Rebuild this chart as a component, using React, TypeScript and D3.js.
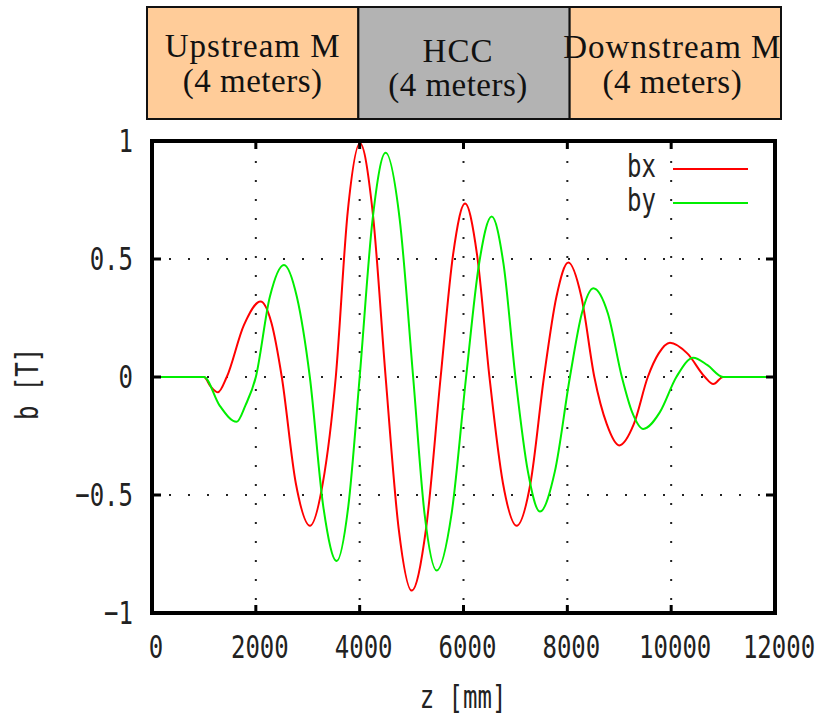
import React from 'react';
import * as d3 from 'd3';

// z positions [mm] and field values [T]
const bxZ = [0, 1000, 1130, 1270, 1440, 1770, 2090, 2300, 2500, 2770, 3043, 3290, 3540, 3770, 4006, 4250, 4500, 4750, 5002, 5280, 5560, 5800, 6030, 6260, 6500, 6760, 7024, 7290, 7550, 7790, 8019, 8270, 8520, 8760, 9000, 9280, 9550, 9760, 9977, 10310, 10650, 10811, 11000, 12000];
const bxB = [0, 0, -0.04, -0.065, 0, 0.22, 0.32, 0.23, 0, -0.45, -0.63, -0.45, 0, 0.7, 0.99, 0.7, 0, -0.64, -0.905, -0.64, 0, 0.52, 0.735, 0.52, 0, -0.45, -0.63, -0.45, 0, 0.34, 0.485, 0.34, 0, -0.2, -0.29, -0.2, 0, 0.1, 0.145, 0.1, 0, -0.03, 0, 0];

const byZ = [0, 1000, 1300, 1630, 1800, 2000, 2270, 2542, 2790, 3040, 3300, 3557, 3780, 4000, 4250, 4500, 4770, 5030, 5250, 5483, 5770, 6050, 6300, 6543, 6770, 7000, 7240, 7473, 7760, 8050, 8280, 8500, 8780, 9050, 9250, 9463, 9780, 10100, 10426, 10700, 11000, 12000];
const byB = [0, 0, -0.12, -0.19, -0.12, 0, 0.34, 0.475, 0.34, 0, -0.55, -0.78, -0.55, 0, 0.67, 0.95, 0.67, 0, -0.58, -0.82, -0.58, 0, 0.48, 0.68, 0.48, 0, -0.4, -0.57, -0.4, 0, 0.27, 0.376, 0.27, 0, -0.15, -0.22, -0.15, 0, 0.082, 0.05, 0, 0];

const zTicks = [0, 2000, 4000, 6000, 8000, 10000, 12000];
const zGrid = [2000, 4000, 6000, 8000, 10000];
const bTicks = [-1, -0.5, 0, 0.5, 1];
const bTickLabels = ['\u22121', '\u22120.5', '0', '0.5', '1'];
const bGrid = [-0.5, 0, 0.5];

const sectionNames = ['Upstream M', 'HCC', 'Downstream M'];
const sectionLengths = ['(4 meters)', '(4 meters)', '(4 meters)'];
const sectionBounds = [0, 4000, 8000, 12000];

const seriesNames = ['bx', 'by'];

const W = 825;
const H = 716;
const margin = { top: 141, right: 50, bottom: 103, left: 152 };
const mono = '"DejaVu Sans Mono", monospace';
const serif = '"Liberation Serif", serif';

function MonoText(props: { x: number; y: number; anchor: string; children: React.ReactNode; rotate?: boolean }) {
  const { x, y, anchor, children, rotate } = props;
  const t = rotate ? `translate(${x},${y}) rotate(-90) scale(1,1.35)` : `translate(${x},${y}) scale(1,1.35)`;
  return (
    <text transform={t} textAnchor={anchor} fontFamily={mono} fontSize={24} fill="#222">
      {children}
    </text>
  );
}

export default function App() {
  const x = d3.scaleLinear().domain([0, 12000]).range([margin.left, W - margin.right]);
  const y = d3.scaleLinear().domain([-1, 1]).range([H - margin.bottom, margin.top]);
  const boxX = d3.scaleLinear().domain([0, 12000]).range([147, 781]);

  const line = d3
    .line<number>()
    .x((d) => x(d))
    .curve(d3.curveMonotoneX);

  const bxPath = d3.line<number>().x((d) => x(d)).y((_, i) => y(bxB[i])).curve(d3.curveMonotoneX)(bxZ);
  const byPath = d3.line<number>().x((d) => x(d)).y((_, i) => y(byB[i])).curve(d3.curveMonotoneX)(byZ);
  void line;

  const boxFill = ['#FFCC99', '#B3B3B3', '#FFCC99'];
  const nameDy = [57, 62, 58];
  const lenDy = [92, 96, 93];
  const textShift = [0, -6, -3];

  const x0 = x(0);
  const x1 = x(12000);
  const y0 = y(-1);
  const y1 = y(1);

  return (
    <div style={{ position: 'absolute', left: 0, top: 0 }}>
      <svg width={W} height={H} style={{ display: 'block', background: '#fff' }}>
        {/* beam line sections */}
        {sectionNames.map((name, i) => {
          const a = boxX(sectionBounds[i]);
          const b = boxX(sectionBounds[i + 1]);
          const cx = (a + b) / 2 + textShift[i];
          return (
            <g key={name}>
              <rect x={a} y={7} width={b - a} height={112} fill={boxFill[i]} stroke="#111" strokeWidth={2} />
              <text x={cx} y={nameDy[i]} textAnchor="middle" fontFamily={serif} fontSize={33} letterSpacing={1} fill="#111">
                {name}
              </text>
              <text x={cx} y={lenDy[i]} textAnchor="middle" fontFamily={serif} fontSize={33} letterSpacing={0.5} fill="#111">
                {sectionLengths[i]}
              </text>
            </g>
          );
        })}

        {/* grid */}
        <g stroke="#222" strokeWidth={2} strokeDasharray="2 17">
          {zGrid.map((v) => (
            <line key={'gz' + v} x1={x(v)} x2={x(v)} y1={y1 + 20} y2={y0} />
          ))}
          {bGrid.map((v) => (
            <line key={'gb' + v} x1={x0 + 17} x2={x1} y1={y(v)} y2={y(v)} />
          ))}
        </g>

        {/* curves */}
        <path d={bxPath || ''} fill="none" stroke="#FF0000" strokeWidth={2} />
        <path d={byPath || ''} fill="none" stroke="#00EE00" strokeWidth={2} />

        {/* ticks */}
        <g stroke="#000" strokeWidth={3}>
          {zGrid.map((v) => (
            <g key={'tz' + v}>
              <line x1={x(v)} x2={x(v)} y1={y0} y2={y0 - 8} />
              <line x1={x(v)} x2={x(v)} y1={y1} y2={y1 + 8} />
            </g>
          ))}
          {bGrid.map((v) => (
            <g key={'tb' + v}>
              <line x1={x0} x2={x0 + 9} y1={y(v)} y2={y(v)} />
              <line x1={x1} x2={x1 - 9} y1={y(v)} y2={y(v)} />
            </g>
          ))}
        </g>

        {/* frame */}
        <rect x={x0} y={y1} width={x1 - x0} height={y0 - y1} fill="none" stroke="#000" strokeWidth={4} />

        {/* tick labels */}
        {zTicks.map((v) => (
          <MonoText key={'lz' + v} x={x(v) + 4} y={658} anchor="middle">
            {String(v)}
          </MonoText>
        ))}
        {bTicks.map((v, i) => (
          <MonoText key={'lb' + v} x={133} y={y(v) + 11} anchor="end">
            {bTickLabels[i]}
          </MonoText>
        ))}

        {/* axis titles */}
        <MonoText x={463} y={708} anchor="middle">
          z [mm]
        </MonoText>
        <MonoText x={38} y={384} anchor="middle" rotate>
          b [T]
        </MonoText>

        {/* legend */}
        {seriesNames.map((n, i) => (
          <g key={n}>
            <MonoText x={656} y={177 + i * 34} anchor="end">
              {n}
            </MonoText>
            <line x1={673} x2={748} y1={169 + i * 34} y2={169 + i * 34} stroke={i === 0 ? '#FF0000' : '#00EE00'} strokeWidth={2} />
          </g>
        ))}
      </svg>
    </div>
  );
}
